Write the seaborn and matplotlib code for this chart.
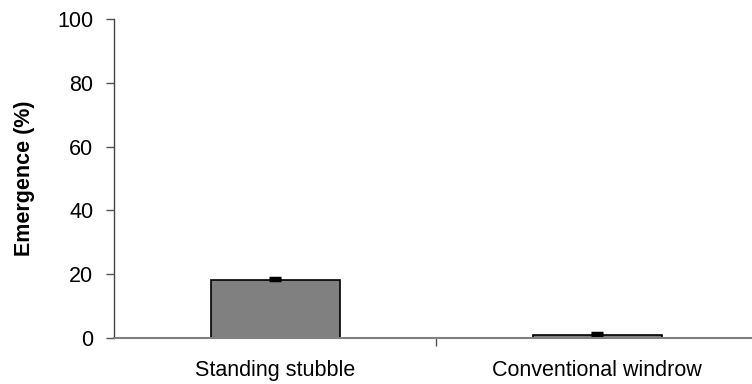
import matplotlib
matplotlib.use("Agg")
import matplotlib.pyplot as plt
import seaborn as sns
import pandas as pd
import numpy as np

categories = ["Standing stubble", "Conventional windrow"]
emergence = [18.2, 0.85]
errors = [0.5, 0.6]

sns.set_style("white")
plt.rcParams["font.family"] = ["Liberation Sans", "DejaVu Sans"]
plt.rcParams["text.color"] = "black"
plt.rcParams["axes.labelcolor"] = "black"
plt.rcParams["xtick.color"] = "black"
plt.rcParams["ytick.color"] = "black"

df = pd.DataFrame({"treatment": categories, "emergence": emergence})

fig = plt.figure(figsize=(7.52, 3.84), dpi=100)
ax = fig.add_axes([114/752, 46/384, 1 - 114/752, (338-19)/384])

sns.barplot(data=df, x="treatment", y="emergence", order=categories,
            color="#808080", saturation=1, width=0.4, edgecolor="black",
            linewidth=1.2, errorbar=None, ax=ax)
ax.errorbar(x=np.arange(len(categories)), y=emergence, yerr=[[0, 0], errors],
            fmt="none", ecolor="black", elinewidth=1.2, capsize=4, capthick=2.5)

ax.set_xlim(-0.5, 1.48)
ax.set_ylim(0, 100)
ax.set_yticks([0, 20, 40, 60, 80, 100])
ax.set_xticks([0.5], minor=True)
ax.tick_params(axis="x", which="major", length=0, pad=16, labelsize=15.5, labelcolor="black")
ax.tick_params(axis="x", which="minor", length=6, width=1, color="#555555", direction="out")
ax.tick_params(axis="y", length=6, width=1, color="#555555", direction="out", pad=9,
               labelsize=15.5, labelcolor="black")
ax.xaxis.set_ticks_position("bottom")
ax.yaxis.set_ticks_position("left")

for s in ["top", "right"]:
    ax.spines[s].set_visible(False)
ax.spines["left"].set_color("#444444")
ax.spines["bottom"].set_color("#808080")
ax.spines["left"].set_linewidth(1)
ax.spines["bottom"].set_linewidth(1.5)

ax.set_xlabel("")
ax.set_ylabel("Emergence (%)", fontsize=15.5, fontweight="bold", labelpad=16, color="black")

fig.savefig("out.png", dpi=100)
